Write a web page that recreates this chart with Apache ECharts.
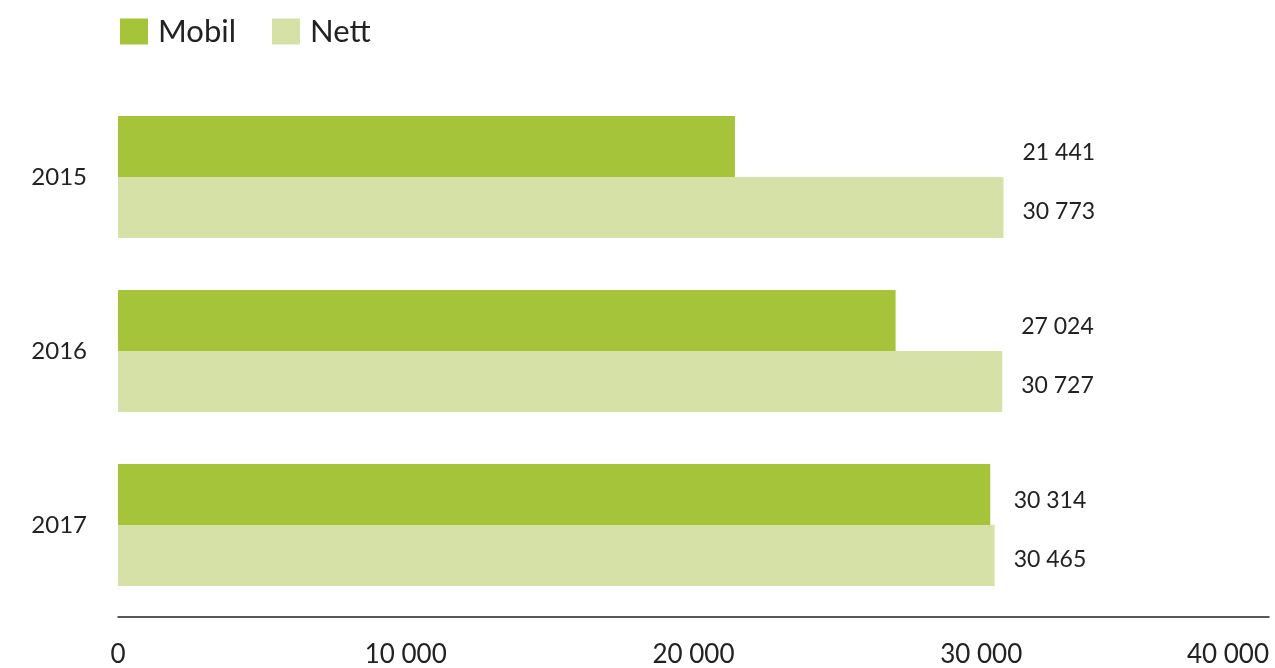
<!DOCTYPE html>
<html><head><meta charset="utf-8">
<script src="https://cdn.jsdelivr.net/npm/echarts@6/dist/echarts.min.js"></script>
<style>html,body{margin:0;padding:0;background:#fff}#c{width:1275px;height:668px}</style>
</head><body><div id="c"></div>
<script>
const years = ['2015', '2016', '2017'];
const mobil = [21441, 27024, 30314];
const nett = [30773, 30727, 30465];
const xTicks = [0, 10000, 20000, 30000, 40000];

const fmt = v => String(v).replace(/\B(?=(\d{3})+(?!\d))/g, ' ');
const FONT = 'Lato';
const TXT = '#222222';
const maxPair = years.map((y, i) => [Math.max(mobil[i], nett[i]), y]);

const chart = echarts.init(document.getElementById('c'));
chart.setOption({
  animation: false,
  textStyle: { fontFamily: FONT },
  legend: {
    left: 120, top: 16, padding: 0,
    itemWidth: 28, itemHeight: 26, itemGap: 36,
    icon: 'rect',
    data: ['Mobil', 'Nett'],
    textStyle: { fontFamily: FONT, fontSize: 31, color: TXT, padding: [0, 0, 0, 5] }
  },
  grid: { left: 118, right: 6, top: 90, bottom: 56, containLabel: false },
  xAxis: {
    type: 'value', min: 0, max: 40000, interval: 10000,
    offset: 5,
    axisLine: { show: true, lineStyle: { color: '#222', width: 1.5 } },
    axisTick: { show: false },
    splitLine: { show: false },
    axisLabel: {
      color: TXT, fontFamily: FONT, fontSize: 26, margin: 25,
      alignMaxLabel: 'right',
      customValues: xTicks,
      formatter: v => fmt(v)
    }
  },
  yAxis: {
    type: 'category', data: years, inverse: true,
    axisLine: { show: false }, axisTick: { show: false },
    axisLabel: { color: TXT, fontFamily: FONT, fontSize: 24, margin: 31 }
  },
  series: [
    { name: 'Mobil', type: 'bar', data: mobil, barGap: '0%', barCategoryGap: '30%',
      itemStyle: { color: '#a6c439' } },
    { name: 'Nett', type: 'bar', data: nett,
      itemStyle: { color: '#d6e1a8' } },
    { type: 'scatter', data: maxPair, symbolSize: 0, silent: true,
      itemStyle: { opacity: 1 },
      label: { show: true, position: 'right', distance: 19, offset: [0, -24], opacity: 1,
        color: TXT, fontFamily: FONT, fontSize: 23,
        formatter: p => fmt(mobil[p.dataIndex]) } },
    { type: 'scatter', data: maxPair, symbolSize: 0, silent: true,
      itemStyle: { opacity: 1 },
      label: { show: true, position: 'right', distance: 19, offset: [0, 35], opacity: 1,
        color: TXT, fontFamily: FONT, fontSize: 23,
        formatter: p => fmt(nett[p.dataIndex]) } }
  ]
});
</script></body></html>
